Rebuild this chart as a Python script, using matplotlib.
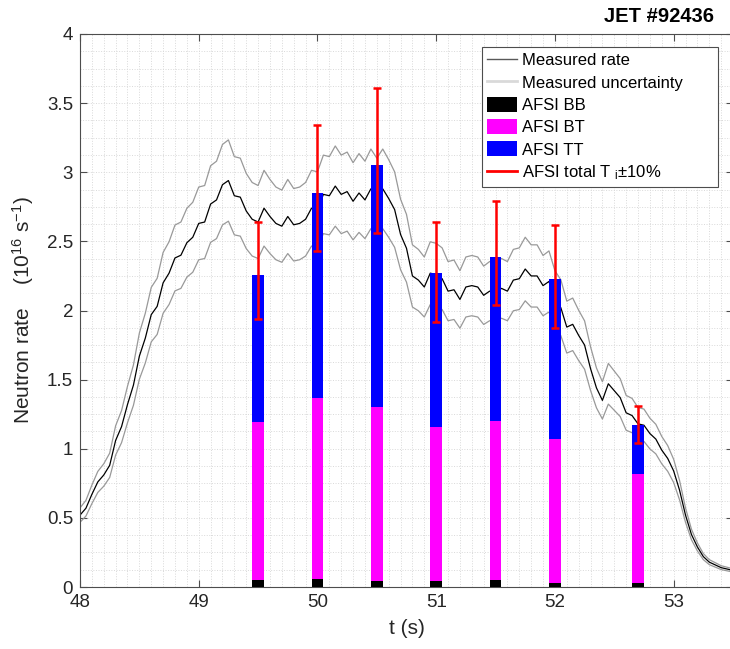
import numpy as np
import matplotlib.pyplot as plt
from matplotlib.patches import Patch
from matplotlib.lines import Line2D
from matplotlib.ticker import MultipleLocator

plt.rcParams['font.family'] = ['Liberation Sans', 'DejaVu Sans']
plt.rcParams['mathtext.default'] = 'regular'

# measured neutron rate (1e16 /s), sampled every 0.05 s from 48.0 to 53.5 s
t_start, t_end = 48.0, 53.5
rate = [
    0.52, 0.57, 0.67, 0.76, 0.81, 0.88, 1.06, 1.16, 1.32, 1.46,
    1.67, 1.80, 1.97, 2.03, 2.20, 2.27, 2.38, 2.40, 2.49, 2.53,
    2.63, 2.64, 2.77, 2.80, 2.91, 2.94, 2.83, 2.82, 2.72, 2.66,
    2.64, 2.74, 2.68, 2.63, 2.61, 2.68, 2.62, 2.63, 2.66, 2.74,
    2.73, 2.84, 2.83, 2.90, 2.84, 2.86, 2.79, 2.85, 2.80, 2.88,
    2.82, 2.88, 2.81, 2.73, 2.55, 2.45, 2.25, 2.22, 2.17, 2.27,
    2.26, 2.23, 2.14, 2.15, 2.08, 2.17, 2.18, 2.17, 2.11, 2.14,
    2.13, 2.16, 2.14, 2.22, 2.23, 2.30, 2.25, 2.25, 2.18, 2.21,
    2.08, 2.02, 1.88, 1.90, 1.82, 1.75, 1.58, 1.44, 1.35, 1.47,
    1.42, 1.37, 1.26, 1.24, 1.18, 1.17, 1.11, 1.07, 0.99, 0.93,
    0.84, 0.70, 0.52, 0.38, 0.29, 0.22, 0.18, 0.16, 0.14, 0.13,
    0.12,
]
rel_unc = 0.10  # relative measurement uncertainty

# AFSI components at the analysed time slices
bar_t = [49.5, 50.0, 50.5, 51.0, 51.5, 52.0, 52.7]
afsi_bb = [0.05, 0.06, 0.04, 0.04, 0.05, 0.03, 0.03]
afsi_bt = [1.14, 1.31, 1.26, 1.12, 1.15, 1.04, 0.79]
afsi_tt = [1.07, 1.48, 1.75, 1.11, 1.19, 1.16, 0.35]
# total with Ti +-10%
err_lo = [1.94, 2.43, 2.56, 1.92, 2.04, 1.87, 1.04]
err_hi = [2.64, 3.34, 3.61, 2.64, 2.79, 2.62, 1.31]

t = np.linspace(t_start, t_end, len(rate))
rate = np.array(rate)
bb = np.array(afsi_bb)
bt = np.array(afsi_bt)
tt = np.array(afsi_tt)
lo = np.array(err_lo)
hi = np.array(err_hi)

fig = plt.figure(figsize=(7.3, 6.49), dpi=100)
ax = fig.add_axes([80 / 730, 62 / 649, 653 / 730, 553 / 649])

ax.plot(t, rate * (1 + rel_unc), color='0.6', lw=0.9, zorder=2)
ax.plot(t, rate * (1 - rel_unc), color='0.6', lw=0.9, zorder=2)
ax.plot(t, rate, color='k', lw=0.9, zorder=2)

w = 0.1
ax.bar(bar_t, bb, width=w, color='black', zorder=3)
ax.bar(bar_t, bt, width=w, bottom=bb, color='#ff00ff', zorder=3)
ax.bar(bar_t, tt, width=w, bottom=bb + bt, color='#0000ff', zorder=3)
ax.errorbar(bar_t, (lo + hi) / 2, yerr=(hi - lo) / 2, fmt='none',
            ecolor='red', elinewidth=1.8, capsize=3, capthick=1.8, zorder=4)

ax.set_xlim(t_start, t_end)
ax.set_ylim(0, 4)
ax.set_xticks(np.arange(48, 54, 1))
ax.set_yticks(np.arange(0, 4.01, 0.5))
ax.set_yticklabels(['0', '0.5', '1', '1.5', '2', '2.5', '3', '3.5', '4'])
ax.xaxis.set_minor_locator(MultipleLocator(0.1))
ax.yaxis.set_minor_locator(MultipleLocator(0.125))
ax.grid(which='both', ls=':', color='0.85', lw=0.7)
ax.set_axisbelow(True)
ax.tick_params(which='major', direction='in', top=True, right=True, length=5,
               labelsize=13.5, color='0.3', labelcolor='#262626', pad=5)
ax.tick_params(which='minor', length=0)
for s in ax.spines.values():
    s.set_color('0.3')
    s.set_linewidth(0.8)

ax.set_xlabel('t (s)', fontsize=15, color='#262626', labelpad=6)
ax.set_ylabel('Neutron rate    (10$^{16}$ s$^{-1}$)', fontsize=15,
              color='#262626', labelpad=8)

fig.text(0.978, 0.974, 'JET #92436', ha='right', va='center',
         fontsize=14.5, fontweight='bold')

handles = [
    Line2D([], [], color='0.35', lw=1),
    Line2D([], [], color='0.85', lw=2),
    Patch(facecolor='black', edgecolor='none'),
    Patch(facecolor='#ff00ff', edgecolor='none'),
    Patch(facecolor='#0000ff', edgecolor='none'),
    Line2D([], [], color='red', lw=2),
]
labels = ['Measured rate', 'Measured uncertainty', 'AFSI BB', 'AFSI BT',
          'AFSI TT', 'AFSI total T $_{i}$±10%']
leg = ax.legend(handles, labels, loc='upper left',
                bbox_to_anchor=(402 / 653, 0, 236 / 653, 1 - 13 / 553),
                mode='expand', borderaxespad=0,
                fontsize=12, frameon=True, fancybox=False, framealpha=1,
                edgecolor='0.3', handlelength=1.8, handleheight=1.0,
                handletextpad=0.3, labelspacing=0.37, borderpad=0.3)
leg.get_frame().set_linewidth(0.8)
leg.set_zorder(5)

fig.savefig('out.png', dpi=100)
